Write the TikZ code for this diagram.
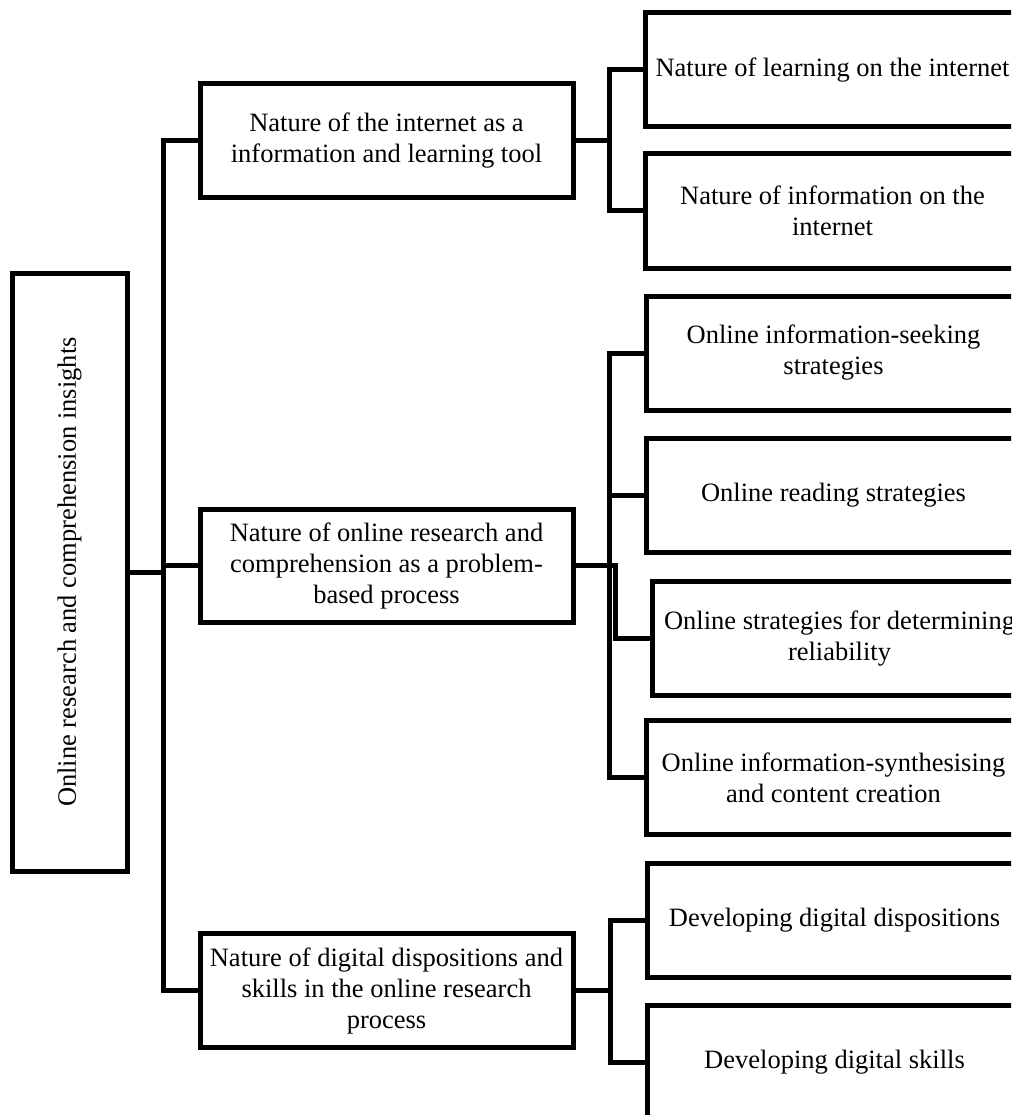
\documentclass[tikz,border=0pt]{standalone}
\usepackage{fontspec}
\setmainfont{Liberation Serif}
\begin{document}
\begin{tikzpicture}[x=1pt,y=-1pt,
  box/.style={draw=black,line width=5pt,rectangle,inner sep=0pt,align=center,
    font=\fontsize{26.5}{31}\selectfont},
  lvl/.style={box,minimum width=373pt,minimum height=114pt},
  leaf/.style={box,minimum width=375pt,minimum height=114pt},
  link/.style={draw=black,line width=5pt,line cap=rect}]
\clip (0,0) rectangle (1011,1115);
\fill[white] (0,0) rectangle (1011,1115);
\node[box,minimum width=115pt,minimum height=598pt] (root) at (69.5,572) {};
\node[rotate=90,font=\fontsize{26.5}{31}\selectfont] (rootlabel) at (root.center) {Online research and comprehension insights};
\node[lvl] (A) at (386.5,141) {Nature of the internet as a\\information and learning tool};
\node[lvl,minimum height=113pt] (B) at (386.5,565.5) {Nature of online research and\\comprehension as a problem-\\based process};
\node[lvl] (C) at (386.5,990.5) {Nature of digital dispositions and\\skills in the online research\\process};
\node[leaf] (A1) at (832.5,70) {Nature of learning on the internet};
\node[leaf] (A2) at (832.5,211) {Nature of information on the\\internet};
\node[leaf] (B1) at (833.5,353) {Online information-seeking\\strategies};
\node[leaf] (B2) at (833.5,495.5) {Online reading strategies};
\node[leaf] (B3) at (839.5,638.5) {Online strategies for determining\\reliability};
\node[leaf] (B4) at (833.5,777.5) {Online information-synthesising\\and content creation};
\node[leaf] (C1) at (834.5,920) {Developing digital dispositions};
\node[leaf] (C2) at (834.5,1062) {Developing digital skills};
\coordinate (t) at (163,572);
\coordinate (aj) at (609,141);
\coordinate (bj) at (609,565.5);
\coordinate (cj) at (610,990.5);
\draw[link] (root.east) -- (t);
\draw[link] (A.west) -| (t);
\draw[link] (C.west) -| (t);
\draw[link] (B.west) -- (B.west -| t);
\draw[link] (A.east) -- (aj);
\draw[link] (A1.west) -| (aj) |- (A2.west);
\draw[link] (B.east) -- (bj);
\draw[link] (B1.west) -| (bj) |- (B4.west);
\draw[link] (B2.west) -- (B2.west -| bj);
\draw[link] (B.east) -- ++(40,0) |- (B3.west);
\draw[link] (C.east) -- (cj);
\draw[link] (C1.west) -| (cj) |- (C2.west);
\end{tikzpicture}
\end{document}
